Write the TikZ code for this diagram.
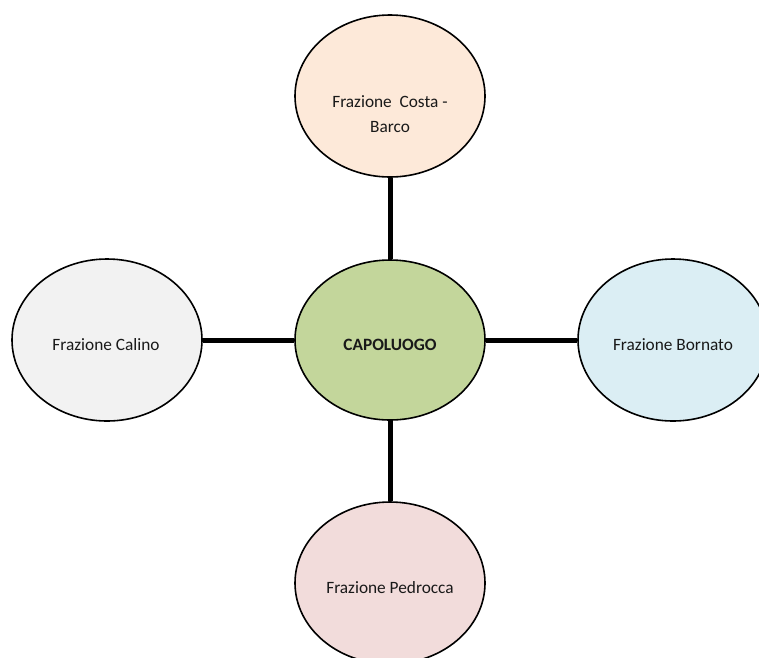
\documentclass[tikz,border=0pt]{standalone}
\usepackage{fontspec}
\setmainfont{Carlito}
\usetikzlibrary{shapes.geometric}
\begin{document}
\begin{tikzpicture}[x=1pt,y=-1pt,
  ell/.style={ellipse, draw=black, line width=1.6pt, minimum width=190pt, minimum height=162pt, inner sep=0pt},
  txt/.style={font=\fontsize{17.3}{25}\selectfont, align=center, inner sep=0pt, text=black!90},
  conn/.style={line width=5pt, black}]
\clip (0,0) rectangle (759,657);
\fill[white] (0,0) rectangle (759,657);
\node[ell, fill={rgb,255:red,253;green,233;blue,217}] (top) at (390,96) {};
\node[ell, fill={rgb,255:red,195;green,214;blue,155}, minimum height=160pt] (cap) at (390,340) {};
\node[ell, fill={rgb,255:red,242;green,242;blue,242}] (left) at (107,340) {};
\node[ell, fill={rgb,255:red,219;green,238;blue,244}] (right) at (673,340) {};
\node[ell, fill={rgb,255:red,242;green,220;blue,219}] (bottom) at (390,583) {};
\draw[conn] (top) -- (cap);
\draw[conn] (cap) -- (bottom);
\draw[conn] (left) -- (cap);
\draw[conn] (cap) -- (right);
\node[txt] (toptext) at (390,114) {Frazione\ \ Costa -\\Barco};
\node[txt, font=\fontsize{17.3}{25}\selectfont\bfseries] (captext) at (390,345) {CAPOLUOGO};
\node[txt] (lefttext) at (106,345) {Frazione Calino};
\node[txt] (righttext) at (673,345) {Frazione Bornato};
\node[txt] (bottomtext) at (390,588) {Frazione Pedrocca};
\end{tikzpicture}
\end{document}
